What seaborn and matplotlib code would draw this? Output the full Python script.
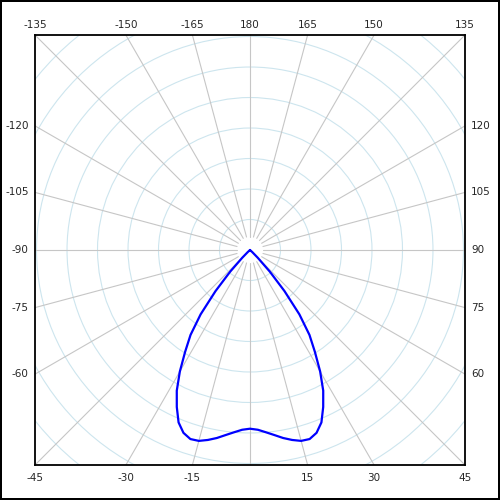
import numpy as np
import matplotlib
matplotlib.use("Agg")
import matplotlib.pyplot as plt
from matplotlib.patches import Circle
import seaborn as sns

# Intensity curve (half, symmetric), angle from nadir in degrees
angles_deg = [0, 2.5, 5, 7.5, 10, 12.5, 15, 17.5, 20, 22.5, 25, 27.5, 30,
              32.5, 35, 37.5, 40, 42.5, 45, 47.5, 50]
intensity = [293, 295, 300, 306, 313, 319, 324, 325, 319, 306, 284, 260, 230,
             198, 170, 133, 88, 48, 18, 5, 0]

# grid settings
ring_step = 50
ring_count = 10
spoke_angles = list(range(-180, 180, 15))
label_angles = [-135, -150, -165, 180, 165, 150, 135,
                -120, -105, -90, -75, -60, 120, 105, 90, 75, 60,
                -45, -30, -15, 15, 30, 45]

sns.set_style("white")
plt.rcParams['font.family'] = ['DejaVu Sans']

lim = 352.5

fig = plt.figure(figsize=(5, 5), dpi=100)
fig.patch.set_facecolor('white')
fig.patch.set_edgecolor('black')
fig.patch.set_linewidth(1.6)
ax = fig.add_axes([0.07, 0.07, 0.86, 0.86])
ax.set_xlim(-lim, lim)
ax.set_ylim(-lim, lim)
ax.set_aspect('equal')
ax.set_xticks([])
ax.set_yticks([])
for s in ax.spines.values():
    s.set_color('black')
    s.set_linewidth(1.3)
    s.set_zorder(5)

# rings
for k in range(1, ring_count + 1):
    ax.add_patch(Circle((0, 0), k * ring_step, fill=False, color='#cde5ee', lw=0.8, zorder=1))

# spokes
for a in spoke_angles:
    t = np.radians(a)
    sx, sy = np.sin(t), -np.cos(t)
    ax.plot([22 * sx, 600 * sx], [22 * sy, 600 * sy], color='#c6c6c6', lw=0.8, zorder=2)

# labels on the frame
for a in label_angles:
    t = np.radians(a)
    sx, sy = np.sin(t), -np.cos(t)
    if abs(sy) >= abs(sx) - 1e-9:
        x, y = lim * sx / abs(sy), lim * np.sign(sy)
        if sy > 0:
            off, ha, va = (0, 7.5), 'center', 'center'
        else:
            off, ha, va = (0, -9.5), 'center', 'center'
    else:
        x, y = lim * np.sign(sx), lim * sy / abs(sx)
        if sx < 0:
            off, ha, va = (-4.5, 0), 'right', 'center'
        else:
            off, ha, va = (4.5, 0), 'left', 'center'
    ax.annotate(str(a), (x, y), xytext=off, textcoords='offset points',
                ha=ha, va=va, fontsize=7.5, annotation_clip=False)

# curve
full_ang = np.radians(np.concatenate([-np.array(angles_deg[::-1]), np.array(angles_deg[1:])]))
full_r = np.concatenate([np.array(intensity[::-1]), np.array(intensity[1:])])
cx = full_r * np.sin(full_ang)
cy = -full_r * np.cos(full_ang)
sns.lineplot(x=cx, y=cy, sort=False, estimator=None, color='#0000ff', lw=1.6, ax=ax, zorder=4)

fig.savefig('out.png', dpi=100, facecolor='white', edgecolor='black')
